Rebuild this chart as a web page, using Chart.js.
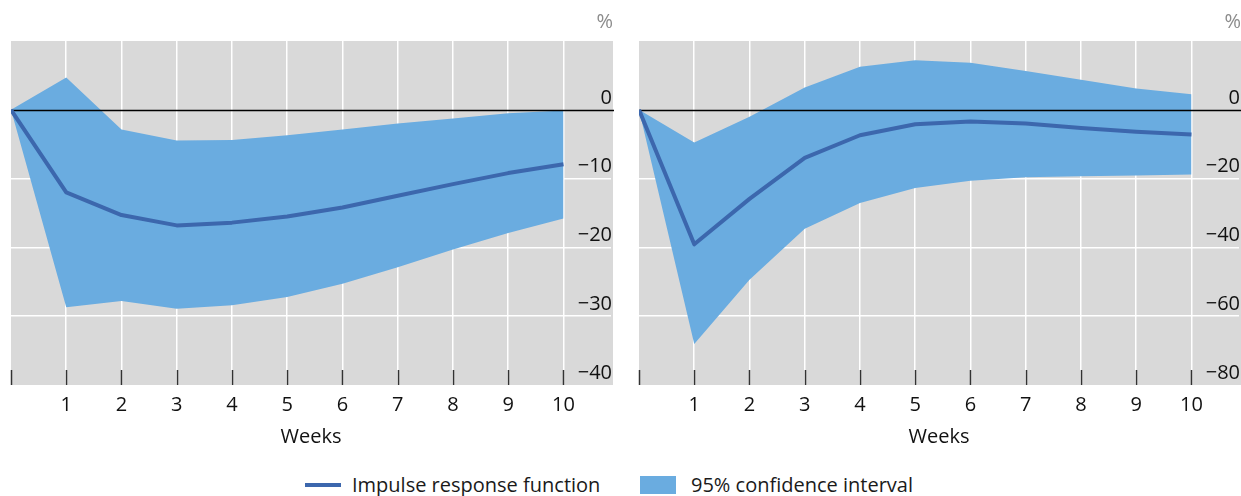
<!DOCTYPE html>
<html>
<head>
<meta charset="utf-8">
<script src="https://cdn.jsdelivr.net/npm/chart.js@4.4.0/dist/chart.umd.min.js"></script>
<style>
  body { margin: 0; background: #fff; font-family: "Open Sans", sans-serif; overflow: hidden; }
  #wrap { position: relative; width: 1241px; height: 496px; }
  #leftChart { position: absolute; left: 0; top: 0; }
  #rightChart { position: absolute; left: 628px; top: 0; }
  .legend { position: absolute; top: 472px; font-size: 20px; color: #1a1a1a; line-height: 26px; white-space: nowrap; }
  .legend .line { position: absolute; top: 11px; width: 36px; height: 4px; background: #3c67ad; }
  .legend .box { position: absolute; top: 4px; width: 36px; height: 18px; background: #6aace0; }
</style>
</head>
<body>
<div id="wrap">
  <canvas id="leftChart" width="625" height="449"></canvas>
  <canvas id="rightChart" width="613" height="449"></canvas>
  <div class="legend" style="left:305px"><span class="line" style="left:0"></span><span style="position:absolute;left:47px">Impulse response function</span></div>
  <div class="legend" style="left:640px"><span class="box" style="left:0"></span><span style="position:absolute;left:51px">95% confidence interval</span></div>
</div>
<script>
// Data
const weeks = [0, 1, 2, 3, 4, 5, 6, 7, 8, 9, 10];
const xTicks = [0, 1, 2, 3, 4, 5, 6, 7, 8, 9, 10];

const leftIrf   = [0, -12.0, -15.3, -16.8, -16.4, -15.5, -14.2, -12.5, -10.8, -9.2, -7.9];
const leftUpper = [0, 4.7, -2.85, -4.45, -4.4, -3.7, -2.85, -2.0, -1.25, -0.5, -0.1];
const leftLower = [0, -28.7, -27.8, -28.9, -28.4, -27.2, -25.3, -22.9, -20.3, -17.9, -15.8];
const leftYTicks = [-40, -30, -20, -10, 0];

const rightIrf   = [0, -39.1, -25.9, -14.0, -7.4, -4.2, -3.4, -4.0, -5.3, -6.4, -7.2];
const rightUpper = [0, -9.5, -2.0, 6.5, 12.5, 14.4, 13.7, 11.3, 8.7, 6.2, 4.5];
const rightLower = [0, -68.1, -49.4, -34.6, -27.1, -22.7, -20.6, -19.6, -19.3, -19.1, -18.8];
const rightYTicks = [-80, -60, -40, -20, 0];

const lineColor = '#3c67ad';
const bandColor = '#6aace0';
const panelBg = '#d9d9d9';

Chart.defaults.font.family = '"Open Sans", sans-serif';
Chart.defaults.font.size = 20;
Chart.defaults.color = '#111';

function points(values) {
    return weeks.map((w, i) => ({ x: w, y: values[i] }));
}

function minusLabel(v) {
    return v < 0 ? '\u2212' + Math.abs(v) : String(v);
}

// Grey panel, inner tick marks and the black zero line
const panelPlugin = {
    id: 'panel',
    beforeDraw(chart) {
        const { ctx, chartArea } = chart;
        const yScale = chart.scales.y;
        ctx.save();
        ctx.fillStyle = panelBg;
        ctx.fillRect(chartArea.left, chartArea.top, yScale.right - chartArea.left, chartArea.bottom - chartArea.top);
        ctx.restore();
    },
    beforeDatasetsDraw(chart) {
        const { ctx, chartArea } = chart;
        const xScale = chart.scales.x;
        ctx.save();
        ctx.strokeStyle = '#333';
        ctx.lineWidth = 1.5;
        xScale.ticks.forEach(t => {
            const px = Math.round(xScale.getPixelForValue(t.value)) + 0.5;
            ctx.beginPath();
            ctx.moveTo(px, chartArea.bottom);
            ctx.lineTo(px, chartArea.bottom - 15);
            ctx.stroke();
        });
        ctx.restore();
    },
    beforeDatasetDraw(chart, args) {
        if (args.index !== 0) return;
        const { ctx, chartArea } = chart;
        const yScale = chart.scales.y;
        const py = Math.round(yScale.getPixelForValue(0)) + 0.5;
        ctx.save();
        ctx.strokeStyle = '#000';
        ctx.lineWidth = 1.5;
        ctx.beginPath();
        ctx.moveTo(chartArea.left, py);
        ctx.lineTo(yScale.right + 1, py);
        ctx.stroke();
        ctx.restore();
    }
};

function makePanel(id, irf, upper, lower, yMin, yMax, yTicks) {
    const ctx = document.getElementById(id);
    const isLeft = id === 'leftChart';
    return new Chart(ctx, {
        type: 'line',
        data: {
            datasets: [{
                label: 'Impulse response function',
                data: points(irf),
                borderColor: lineColor,
                borderWidth: 4,
                pointRadius: 0,
                tension: 0,
                fill: false,
                borderJoinStyle: 'round'
            }, {
                label: '95% confidence interval',
                data: points(upper),
                borderWidth: 0,
                borderColor: 'rgba(0,0,0,0)',
                backgroundColor: bandColor,
                pointRadius: 0,
                tension: 0,
                fill: '+1'
            }, {
                label: 'lower',
                data: points(lower),
                borderWidth: 0,
                borderColor: 'rgba(0,0,0,0)',
                pointRadius: 0,
                tension: 0,
                fill: false
            }]
        },
        options: {
            responsive: false,
            devicePixelRatio: 1,
            animation: false,
            layout: {
                padding: { left: 11, right: isLeft ? 12 : 0, top: 0, bottom: 0 }
            },
            plugins: {
                legend: { display: false },
                tooltip: { enabled: false },
                title: {
                    display: true,
                    text: '%',
                    align: 'end',
                    color: '#8c8c8c',
                    font: { size: 20, weight: 'normal' },
                    padding: { top: 10, bottom: 7 }
                }
            },
            scales: {
                x: {
                    type: 'linear',
                    min: 0,
                    max: 10.86,
                    afterBuildTicks: axis => { axis.ticks = xTicks.map(v => ({ value: v })); },
                    grid: {
                        color: c => (c.tick && c.tick.value > 0 ? '#ffffff' : 'rgba(0,0,0,0)'),
                        lineWidth: 1.5,
                        drawTicks: false
                    },
                    border: { display: false },
                    ticks: {
                        padding: 8,
                        maxRotation: 0,
                        callback: v => (v === 0 ? '' : String(v))
                    },
                    title: {
                        display: true,
                        text: 'Weeks',
                        padding: { top: 0, bottom: 0 },
                        font: { size: 20 }
                    }
                },
                y: {
                    type: 'linear',
                    position: 'right',
                    min: yMin,
                    max: yMax,
                    afterBuildTicks: axis => { axis.ticks = yTicks.map(v => ({ value: v })); },
                    grid: {
                        color: c => (c.tick && c.tick.value !== 0 && c.tick.value !== yMin ? '#ffffff' : 'rgba(0,0,0,0)'),
                        lineWidth: 1.5,
                        drawTicks: false
                    },
                    border: { display: false },
                    ticks: {
                        mirror: true,
                        padding: 1,
                        crossAlign: 'near',
                        labelOffset: -12,
                        callback: v => minusLabel(v)
                    }
                }
            }
        },
        plugins: [panelPlugin]
    });
}

makePanel('leftChart', leftIrf, leftUpper, leftLower, -40, 10, leftYTicks);
makePanel('rightChart', rightIrf, rightUpper, rightLower, -80, 20, rightYTicks);
</script>
</body>
</html>
